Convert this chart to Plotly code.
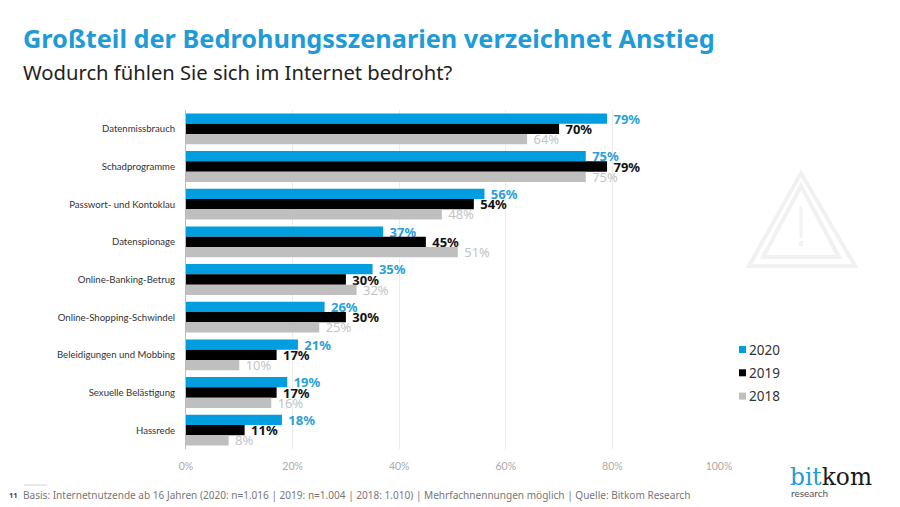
import plotly.graph_objects as go

categories = [
    "Datenmissbrauch",
    "Schadprogramme",
    "Passwort- und Kontoklau",
    "Datenspionage",
    "Online-Banking-Betrug",
    "Online-Shopping-Schwindel",
    "Beleidigungen und Mobbing",
    "Sexuelle Belästigung",
    "Hassrede",
]
values_2020 = [79, 75, 56, 37, 35, 26, 21, 19, 18]
values_2019 = [70, 79, 54, 45, 30, 30, 17, 17, 11]
values_2018 = [64, 75, 48, 51, 32, 25, 10, 16, 8]
years = ["2020", "2019", "2018"]
colors = ["#009ddf", "#000000", "#bfbfbf"]
label_colors = ["#2a9fd8", "#111111", "#c4c4c4"]
x_ticks = [0, 20, 40, 60, 80, 100]
x_tick_labels = ["0%", "20%", "40%", "60%", "80%", "100%"]

W, H = 900, 507
OFFSET = 8  # the page body adds 8px around the plot
FONT = "Noto Sans"
FONT_NARROW = "Lato"


def px(x):
    return (x - OFFSET) / W


def py(y):
    return 1 - (y - OFFSET) / H


fig = go.Figure()
for year, vals, color, label_color in zip(
    years, [values_2020, values_2019, values_2018], colors, label_colors
):
    fig.add_trace(
        go.Bar(
            y=categories,
            x=vals,
            name=year,
            orientation="h",
            marker=dict(color=color, line=dict(width=0)),
            text=[f"\u00a0{v}%" for v in vals],
            textposition="outside",
            constraintext="none",
            cliponaxis=False,
            textfont=dict(
                family=FONT,
                size=13,
                color=label_color,
                weight=400 if year == "2018" else 700,
            ),
        )
    )


def text(x, y, s, size, color, anchor="left", family=FONT):
    fig.add_annotation(
        x=px(x), y=py(y), xref="paper", yref="paper", text=s, showarrow=False,
        xanchor=anchor, yanchor="middle",
        font=dict(family=family, size=size, color=color),
    )


text(21, 38, "<b>Großteil der Bedrohungsszenarien verzeichnet Anstieg</b>", 25.3, "#1f9bd8")
text(21, 72, "Wodurch fühlen Sie sich im Internet bedroht?", 20.2, "#222222")
text(7, 495, "<b>11</b>", 7.5, "#444444")
text(21, 495, "Basis: Internetnutzende ab 16 Jahren (2020: n=1.016 | 2019: n=1.004 | 2018: 1.010) | "
     "Mehrfachnennungen möglich | Quelle: Bitkom Research", 10.05, "#777777")
text(788, 476, "<span style='color:#1f9bd8'>bit</span>kom", 23.3, "#1a1a1a", family="DejaVu Serif")
text(789, 493, "research", 10, "#555555", family=FONT_NARROW)

# legend
for i, (year, color) in enumerate(zip(years, colors)):
    y = 349.5 + i * 23.3
    fig.add_shape(type="rect", xref="paper", yref="paper", x0=px(739), x1=px(746),
                  y0=py(y - 3.5), y1=py(y + 3.5), fillcolor=color, line_width=0)
    text(747, y, year, 13.5, "#333333")

# rule above the footnote
fig.add_shape(type="line", xref="paper", yref="paper", x0=px(24), x1=px(47),
              y0=py(485), y1=py(485), line=dict(color="#d5d5d5", width=1))


# warning triangle in the background
def tri(ax, ay, lx, rx, by):
    return (f"M {px(ax)} {py(ay)} L {px(rx)} {py(by)} L {px(lx)} {py(by)} Z")


for path in [tri(801, 173, 749, 855, 266), tri(801, 186, 763, 839, 257)]:
    fig.add_shape(type="path", xref="paper", yref="paper", path=path, layer="below",
                  line=dict(color="#f1f1f1", width=4))
fig.add_shape(type="line", xref="paper", yref="paper", x0=px(801), x1=px(801),
              y0=py(207), y1=py(238), layer="below", line=dict(color="#f1f1f1", width=3))
fig.add_shape(type="line", xref="paper", yref="paper", x0=px(801), x1=px(801),
              y0=py(241), y1=py(246), layer="below", line=dict(color="#f1f1f1", width=4))

fig.update_xaxes(
    domain=[px(186), px(719)],
    range=[0, 100],
    tickmode="array",
    tickvals=x_ticks,
    ticktext=x_tick_labels,
    tickfont=dict(family=FONT_NARROW, size=10.5, color="#aaaaaa"),
    ticks="outside",
    ticklen=7,
    tickcolor="rgba(0,0,0,0)",
    showgrid=True,
    gridcolor="#ececec",
    gridwidth=1,
    zeroline=False,
    automargin=False,
)
fig.update_yaxes(
    domain=[py(449), py(110)],
    autorange="reversed",
    tickfont=dict(family=FONT_NARROW, size=9.6, color="#333333"),
    ticks="outside",
    ticklen=8,
    tickcolor="rgba(0,0,0,0)",
    showline=True,
    linecolor="#bdbdbd",
    linewidth=1,
    automargin=False,
)
fig.update_layout(
    width=W,
    height=H,
    margin=dict(l=0, r=0, t=0, b=0),
    barmode="group",
    bargap=0.18,
    bargroupgap=0,
    showlegend=False,
    paper_bgcolor="white",
    plot_bgcolor="white",
)
fig.write_html("out.html")
